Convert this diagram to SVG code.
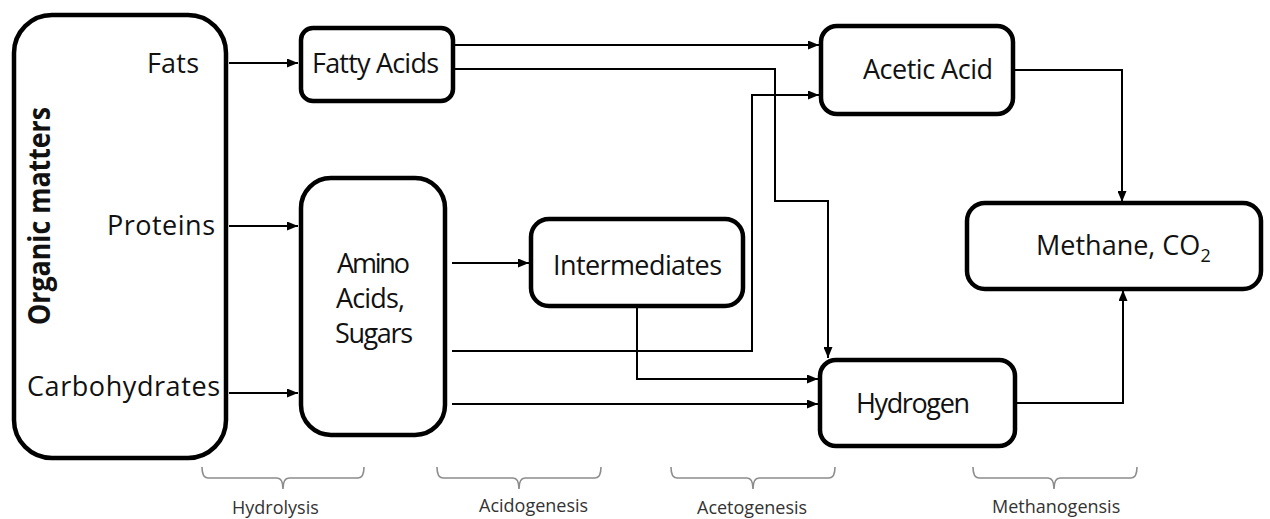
<svg xmlns="http://www.w3.org/2000/svg" width="1270" height="519" viewBox="0 0 1270 519">
<style>
.box{fill:#fff;stroke:#000;stroke-width:4.5}
.lbl{font-family:"Open Sans","Liberation Sans",sans-serif;font-size:27px;fill:#111}
.ttl{font-family:"Open Sans","Liberation Sans",sans-serif;font-size:30px;font-weight:bold;fill:#111}
.con{fill:none;stroke:#000;stroke-width:2}
.brace{fill:none;stroke:#8c8c8c;stroke-width:1.6}
.stage{font-family:"Open Sans","Liberation Sans",sans-serif;font-size:18px;fill:#333}
</style>
<defs>
<marker id="ah" markerUnits="userSpaceOnUse" markerWidth="11" markerHeight="9" refX="11" refY="4.5" orient="auto">
<path d="M0,0 L11,4.5 L0,9 z" fill="#000"/>
</marker>
</defs>
<rect width="1270" height="519" fill="#fff"/>

<g id="connectors">
<path class="con" marker-end="url(#ah)" d="M229,63 H298"/>
<path class="con" marker-end="url(#ah)" d="M229,226 H298"/>
<path class="con" marker-end="url(#ah)" d="M229,393 H298"/>
<path class="con" marker-end="url(#ah)" d="M455,45 H819"/>
<path class="con" marker-end="url(#ah)" d="M455,69 H775 V201 H828 V358"/>
<path class="con" marker-end="url(#ah)" d="M452,351 H752 V95 H819"/>
<path class="con" marker-end="url(#ah)" d="M452,263 H529"/>
<path class="con" marker-end="url(#ah)" d="M637,308 V379 H818"/>
<path class="con" marker-end="url(#ah)" d="M452,404 H818"/>
<path class="con" marker-end="url(#ah)" d="M1015,70 H1122 V202"/>
<path class="con" marker-end="url(#ah)" d="M1017,403 H1123 V290"/>
</g>

<g id="organic">
<rect class="box" x="14" y="15" width="212" height="443" rx="38"/>
<text class="ttl" transform="translate(50,216) rotate(-90)" text-anchor="middle" textLength="218" lengthAdjust="spacingAndGlyphs">Organic matters</text>
<text class="lbl" x="147" y="73" textLength="52">Fats</text>
<text class="lbl" x="107" y="235" textLength="108">Proteins</text>
<text class="lbl" x="27" y="396" textLength="193">Carbohydrates</text>
</g>

<g id="fatty-acids">
<rect class="box" x="301" y="28" width="152" height="73" rx="12"/>
<text class="lbl" x="312" y="73" textLength="127">Fatty Acids</text>
</g>

<g id="amino-acids">
<rect class="box" x="301" y="178" width="144" height="257" rx="30"/>
<text class="lbl" x="337" y="273" textLength="73">Amino</text>
<text class="lbl" x="336" y="308" textLength="69">Acids,</text>
<text class="lbl" x="335" y="343" textLength="78">Sugars</text>
</g>

<g id="intermediates">
<rect class="box" x="531" y="219" width="212" height="87" rx="18"/>
<text class="lbl" x="553" y="275" textLength="169">Intermediates</text>
</g>

<g id="acetic-acid">
<rect class="box" x="821" y="26" width="192" height="88" rx="16"/>
<text class="lbl" x="863" y="79" textLength="130">Acetic Acid</text>
</g>

<g id="methane">
<rect class="box" x="967" y="203" width="294" height="86" rx="18"/>
<text class="lbl" x="1036" y="255">Methane, CO<tspan font-size="18" dy="7">2</tspan></text>
</g>

<g id="hydrogen">
<rect class="box" x="820" y="360" width="195" height="86" rx="16"/>
<text class="lbl" x="856" y="413" textLength="114">Hydrogen</text>
</g>

<g id="stages">
<path class="brace" d="M202,467 Q202,478 208,478 H277 Q283,478 283,489 Q283,478 289,478 H358 Q364,478 364,467"/>
<text class="stage" x="232" y="514">Hydrolysis</text>
<path class="brace" d="M437,467 Q437,478 443,478 H513 Q519,478 519,489 Q519,478 525,478 H595 Q601,478 601,467"/>
<text class="stage" x="479" y="512">Acidogenesis</text>
<path class="brace" d="M671,467 Q671,478 677,478 H747 Q753,478 753,489 Q753,478 759,478 H829 Q835,478 835,467"/>
<text class="stage" x="697" y="514">Acetogenesis</text>
<path class="brace" d="M973,467 Q973,478 979,478 H1048 Q1054,478 1054,489 Q1054,478 1060,478 H1131 Q1137,478 1137,467"/>
<text class="stage" x="992" y="513">Methanogensis</text>
</g>
</svg>
